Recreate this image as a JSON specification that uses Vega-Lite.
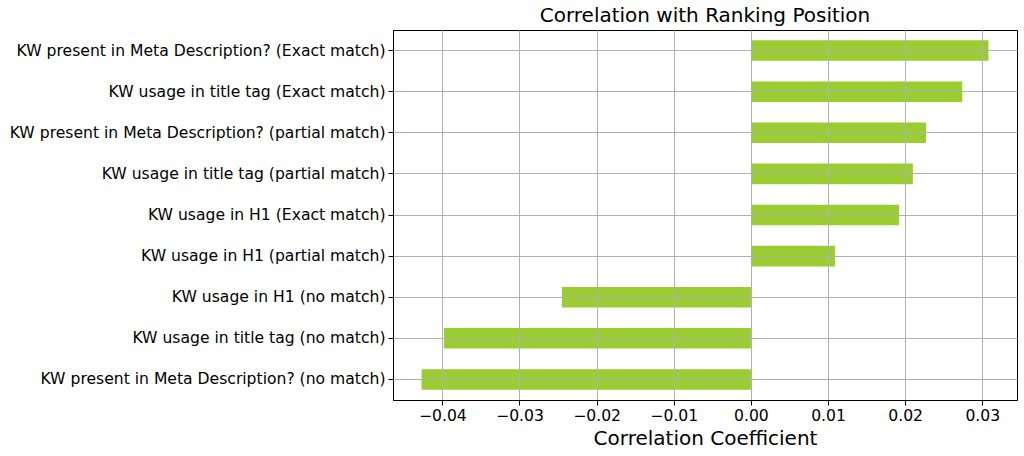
{
  "$schema": "https://vega.github.io/schema/vega-lite/v6.json",
  "autosize": "none",
  "width": 624,
  "height": 370,
  "padding": {"left": 393, "top": 30, "right": 7, "bottom": 56},
  "background": "white",
  "config": {
    "font": "DejaVu Sans",
    "view": {"stroke": "black", "strokeWidth": 1}
  },
  "title": {
    "text": "Correlation with Ranking Position",
    "fontSize": 20,
    "fontWeight": "normal",
    "color": "black",
    "anchor": "middle",
    "offset": 4
  },
  "data": {
    "values": [
      {"feature": "KW present in Meta Description? (Exact match)", "corr": 0.0308},
      {"feature": "KW usage in title tag (Exact match)", "corr": 0.0274},
      {"feature": "KW present in Meta Description? (partial match)", "corr": 0.0227},
      {"feature": "KW usage in title tag (partial match)", "corr": 0.0210},
      {"feature": "KW usage in H1 (Exact match)", "corr": 0.0192},
      {"feature": "KW usage in H1 (partial match)", "corr": 0.0109},
      {"feature": "KW usage in H1 (no match)", "corr": -0.0245},
      {"feature": "KW usage in title tag (no match)", "corr": -0.0398},
      {"feature": "KW present in Meta Description? (no match)", "corr": -0.0427}
    ]
  },
  "mark": {"type": "bar", "color": "#9ACD32"},
  "encoding": {
    "y": {
      "field": "feature",
      "type": "nominal",
      "sort": "-x",
      "scale": {"paddingInner": 0.5, "paddingOuter": 0.25},
      "axis": {
        "title": null,
        "bandPosition": 0.5,
        "grid": true,
        "gridColor": "#b0b0b0",
        "gridWidth": 1,
        "zindex": 1,
        "domainColor": "black",
        "tickColor": "black",
        "tickSize": 5,
        "labelPadding": 3,
        "labelFontSize": 15.6,
        "labelColor": "black",
        "labelLimit": 500
      }
    },
    "x": {
      "field": "corr",
      "type": "quantitative",
      "scale": {"domain": [-0.0464, 0.0345], "nice": false, "zero": false},
      "axis": {
        "title": "Correlation Coefficient",
        "titleFontSize": 20,
        "titleFontWeight": "normal",
        "titleColor": "black",
        "titlePadding": 5,
        "values": [-0.04, -0.03, -0.02, -0.01, 0, 0.01, 0.02, 0.03],
        "format": ".2f",
        "grid": true,
        "gridColor": "#b0b0b0",
        "gridWidth": 1,
        "zindex": 1,
        "domainColor": "black",
        "tickColor": "black",
        "tickSize": 5,
        "labelPadding": 3,
        "labelFontSize": 15.6,
        "labelColor": "black",
        "labelFlush": false
      }
    }
  }
}
